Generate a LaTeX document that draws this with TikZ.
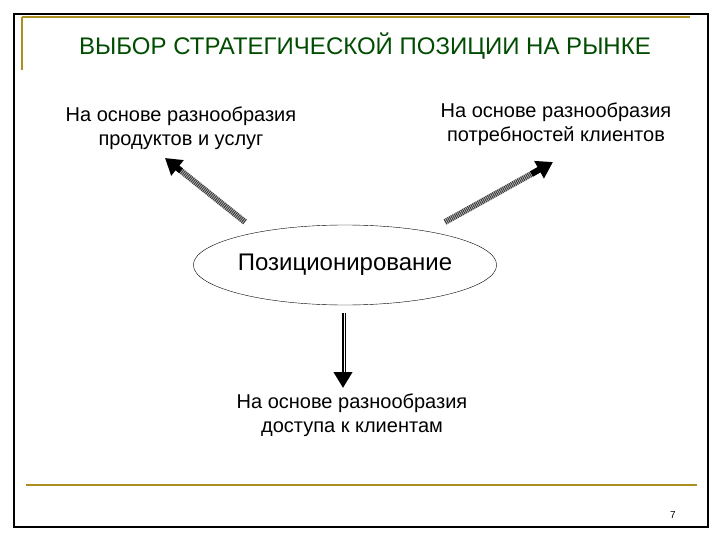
\documentclass[tikz,border=0pt]{standalone}
\usepackage{fontspec}
\setmainfont{Liberation Sans}
\usetikzlibrary{shapes.geometric,arrows.meta,calc}
\begin{document}
\begin{tikzpicture}[x=1pt,y=-1pt,
  lbl/.style={align=center,font=\fontsize{20}{24}\selectfont},
  fat/.style={line width=6pt,draw=black!75,dash pattern=on 1.2pt off 0.7pt,shorten >=14pt},
  tipline/.style={line width=6pt,draw=black,-{Triangle[length=16pt,width=19pt,fill=black]}},
  gold/.style={draw=brown!60!yellow!80!black,line width=2pt}]
\useasboundingbox (0,0) rectangle (720,540);
\draw[line width=1.5pt] (14,14) rectangle (708,527);
\draw[gold] (22,17) -- (690,17);
\draw[gold] (22,17) -- (22,70);
\draw[gold] (26,485) -- (697,485);
\node[font=\fontsize{24}{28}\selectfont,text=green!30!black] (title) at (365,46) {ВЫБОР СТРАТЕГИЧЕСКОЙ ПОЗИЦИИ НА РЫНКЕ};
\node[lbl] (l) at (181,128) {На основе разнообразия\\продуктов и услуг};
\node[lbl] (r) at (556,124) {На основе разнообразия\\потребностей клиентов};
\node[lbl] (b) at (352,415) {На основе разнообразия\\доступа к клиентам};
\node[draw,ellipse,minimum width=250pt,minimum height=80pt,inner sep=0pt,font=\fontsize{24}{28}\selectfont] (p) at (345,265) {Позиционирование};
\coordinate (ls) at (245,222); \coordinate (le) at (165,158);
\coordinate (rs) at (445,222); \coordinate (re) at (553,162);
\draw[fat] (ls) -- (le);
\draw[fat] (rs) -- (re);
\draw[tipline] ($(ls)!0.8!(le)$) -- (le);
\draw[tipline] ($(rs)!0.8!(re)$) -- (re);
\coordinate (ds) at (343,313); \coordinate (de) at (343,388);
\draw[line width=5pt,draw=black,-{Triangle[length=16pt,width=18pt]}] (ds) -- (de);
\draw[line width=1.4pt,white,shorten >=16pt] (341.5,313) -- (341.5,388);
\draw[line width=1.4pt,white,shorten >=16pt] (344.5,313) -- (344.5,388);
\node[font=\fontsize{10}{12}\selectfont] (pg) at (673,515) {7};
\end{tikzpicture}
\end{document}
